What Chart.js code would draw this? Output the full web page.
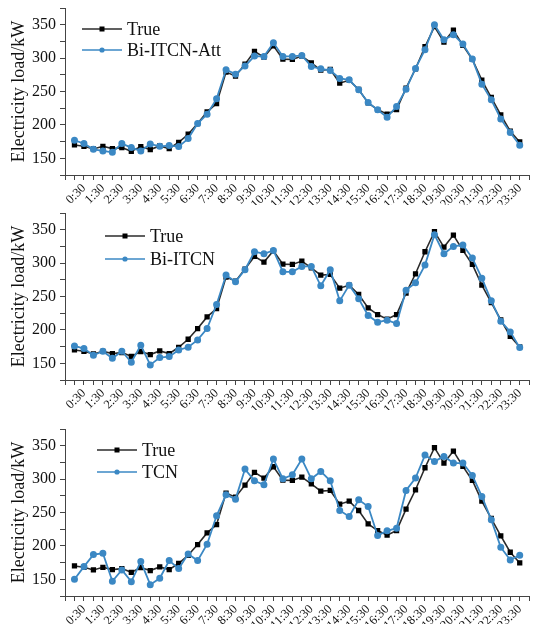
<!DOCTYPE html>
<html>
<head>
<meta charset="utf-8">
<script src="https://cdn.jsdelivr.net/npm/chart.js@4.4.0/dist/chart.umd.min.js"></script>
<style>
  html, body { margin: 0; padding: 0; background: #fff; }
  #wrap { position: relative; width: 535px; height: 624px; overflow: hidden; }
  .panel { position: absolute; left: 0; width: 535px; }
</style>
</head>
<body>
<div id="wrap">
  <div class="panel" style="top:0;height:205px"><canvas id="chart1"></canvas></div>
  <div class="panel" style="top:205px;height:205px"><canvas id="chart2"></canvas></div>
  <div class="panel" style="top:421px;height:203px"><canvas id="chart3"></canvas></div>
</div>
<script>
// half-hour time stamps, only every other one is printed on the axis
const timeLabels = ["0:00", "0:30", "1:00", "1:30", "2:00", "2:30", "3:00", "3:30", "4:00", "4:30",
  "5:00", "5:30", "6:00", "6:30", "7:00", "7:30", "8:00", "8:30", "9:00", "9:30",
  "10:00", "10:30", "11:00", "11:30", "12:00", "12:30", "13:00", "13:30", "14:00", "14:30",
  "15:00", "15:30", "16:00", "16:30", "17:00", "17:30", "18:00", "18:30", "19:00", "19:30",
  "20:00", "20:30", "21:00", "21:30", "22:00", "22:30", "23:00", "23:30"];

const trueLoad = [170, 168, 164, 168, 164.5, 166, 160.5, 167.5, 163, 168.5, 164.5, 174, 186, 202, 219.5, 232,
  279, 273, 291, 310, 301.5, 318.5, 298.5, 298, 303, 293, 282, 283, 262.5, 267, 253, 233,
  223, 216, 223, 255, 284, 317, 347, 324, 342, 319, 298, 267, 241, 215, 190.5, 174.5];

const biItcnAtt = [177, 172, 163.5, 161, 159, 172, 166, 161, 171.5, 168, 169, 167.5, 179.5, 202, 216, 239,
  282.5, 276, 288, 303, 302.5, 323, 302.5, 302.5, 304, 287.5, 284, 281.5, 269.5, 267.5, 252.5, 233.5,
  222.5, 211.5, 227.5, 253.5, 284.5, 312.5, 350, 327.5, 335, 321, 298.5, 261, 237.5, 209, 188.5, 169.5];

const biItcn = [176, 172, 162, 168, 157.5, 168, 151.5, 177, 147.5, 158.5, 160, 170, 174, 185, 202, 238,
  282, 272, 290, 317, 314, 319, 287, 287, 295, 295, 266, 290, 243.5, 267, 246.5, 221.5,
  211.5, 214.5, 209.5, 259.5, 270.5, 297, 342.5, 314, 325, 327, 307.5, 277.5, 243.5, 213, 197, 173.5];

const tcn = [150, 169, 187, 189, 147, 164, 146.5, 176.5, 142, 151.5, 178, 166, 188, 178, 202.5, 245,
  276.5, 270, 315, 297.5, 291.5, 330, 300.5, 306.5, 330, 300.5, 311.5, 297.5, 253, 244, 269, 259,
  215.5, 222.5, 226.5, 283, 301.5, 336, 326.5, 334, 324, 324, 305.5, 274, 239, 198, 179, 186];

// labelled y ticks and the unlabelled minor ones between them
const yTicks = [150, 200, 250, 300, 350];
const yMinorTicks = [125, 175, 225, 275, 325, 375];

const SERIF = '"Liberation Serif", "Times New Roman", serif';
const BLUE = '#3b88c4';
const DARK = '#2b2b2b';

// legend drawn inside the plot, like the original figure
const innerLegend = {
  id: 'innerLegend',
  afterDraw(chart, args, opts) {
    const c = chart.ctx;
    c.save();
    chart.data.datasets.forEach((ds, i) => {
      const y = opts.y + i * opts.gap;
      c.strokeStyle = ds.borderColor;
      c.lineWidth = 1.6;
      c.beginPath();
      c.moveTo(opts.x, y);
      c.lineTo(opts.x + 40, y);
      c.stroke();
      c.fillStyle = ds.pointBackgroundColor;
      if (ds.pointStyle === 'rect') {
        c.fillRect(opts.x + 17.5, y - 2.5, 5, 5);
      } else {
        c.beginPath();
        c.arc(opts.x + 20, y, 2.6, 0, Math.PI * 2);
        c.fill();
      }
      c.fillStyle = '#111';
      c.font = '18px ' + SERIF;
      c.textBaseline = 'middle';
      c.fillText(ds.label, opts.x + 45, y + 1);
    });
    c.restore();
  }
};

function makePanel(id, name, predicted, legendPos, canvasHeight) {
  const toPoints = arr => arr.map((v, i) => ({ x: i, y: v }));
  return new Chart(document.getElementById(id), {
    type: 'line',
    data: {
      datasets: [
        {
          label: 'True',
          data: toPoints(trueLoad),
          borderColor: DARK,
          backgroundColor: '#000',
          pointBackgroundColor: '#000',
          pointBorderColor: '#000',
          pointStyle: 'rect',
          pointRadius: 2.6,
          borderWidth: 1.6,
          tension: 0,
          order: 1
        },
        {
          label: name,
          data: toPoints(predicted),
          borderColor: BLUE,
          backgroundColor: BLUE,
          pointBackgroundColor: BLUE,
          pointBorderColor: BLUE,
          pointStyle: 'circle',
          pointRadius: 2.6,
          borderWidth: 1.8,
          tension: 0,
          order: 0
        }
      ]
    },
    options: {
      responsive: true,
      maintainAspectRatio: false,
      animation: false,
      layout: { padding: { top: 8, right: 2.5, left: 0, bottom: 0 } },
      plugins: {
        legend: { display: false },
        tooltip: { enabled: false },
        innerLegend: legendPos
      },
      scales: {
        x: {
          type: 'linear',
          min: -1,
          max: 48,
          grid: { drawOnChartArea: false, drawTicks: true, tickLength: 5, color: '#444' },
          border: { display: true, color: '#444', width: 1 },
          ticks: {
            autoSkip: false,
            minRotation: 45,
            maxRotation: 45,
            padding: 1,
            color: '#111',
            font: { family: SERIF, size: 12.5 },
            callback: v => (v >= 0 && v < timeLabels.length && v % 2 === 1) ? timeLabels[v] : ''
          },
          afterBuildTicks(scale) {
            // one tick per half hour, plus one at each end of the axis
            scale.ticks = [-1].concat(timeLabels.map((t, i) => i), [timeLabels.length]).map(v => ({ value: v }));
          },
          afterFit(scale) {
            scale.height = canvasHeight - 175;
            scale.paddingLeft = 0;
            scale.paddingRight = 0;
          }
        },
        y: {
          min: 125,
          max: 375,
          grid: { drawOnChartArea: false, drawTicks: true, tickLength: 5, color: '#444' },
          border: { display: true, color: '#444', width: 1 },
          ticks: {
            autoSkip: false,
            padding: 4,
            color: '#111',
            font: { family: SERIF, size: 16 },
            callback: v => yTicks.includes(v) ? String(v) : ''
          },
          afterBuildTicks(scale) {
            scale.ticks = yTicks.concat(yMinorTicks).sort((a, b) => a - b).map(v => ({ value: v }));
          },
          title: {
            display: true,
            text: 'Electricity load/kW',
            color: '#111',
            font: { family: SERIF, size: 18 },
            padding: { top: 8, bottom: 0 }
          },
          afterFit(scale) {
            scale.width = 65;
            scale.paddingTop = 0;
            scale.paddingBottom = 0;
          }
        }
      }
    },
    plugins: [innerLegend]
  });
}

makePanel('chart1', 'Bi-ITCN-Att', biItcnAtt, { x: 82, y: 29, gap: 21 }, 205);
makePanel('chart2', 'Bi-ITCN', biItcn, { x: 105, y: 31, gap: 23 }, 205);
makePanel('chart3', 'TCN', tcn, { x: 97, y: 29, gap: 22 }, 203);
</script>
</body>
</html>
